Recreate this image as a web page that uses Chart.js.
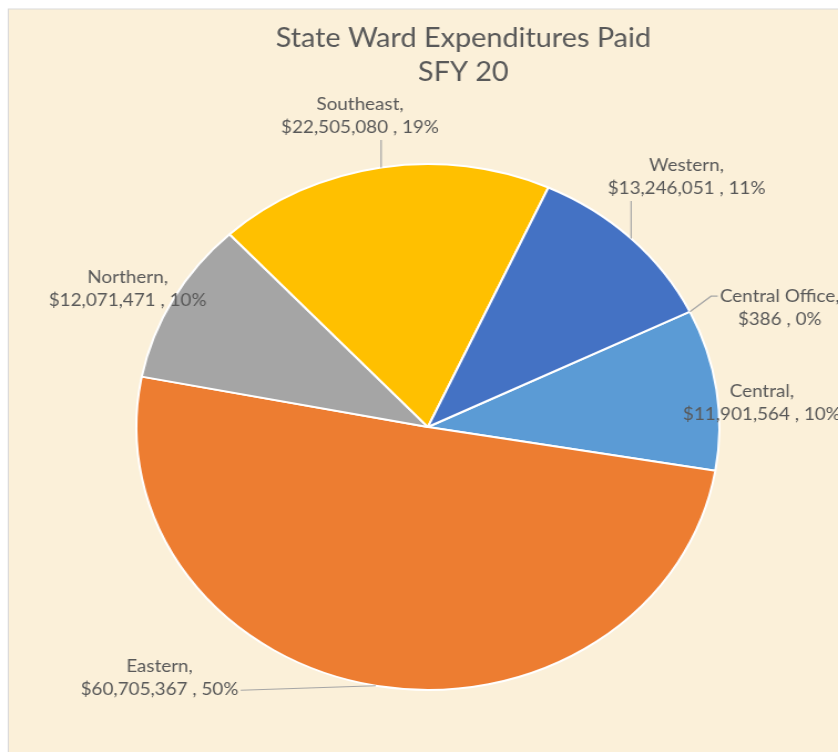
<!DOCTYPE html>
<html>
<head>
<meta charset="utf-8">
<script src="https://cdn.jsdelivr.net/npm/chart.js@4.4.1/dist/chart.umd.min.js"></script>
<style>
  html, body { margin: 0; padding: 0; background: #fff; overflow: hidden; width: 838px; height: 752px; }
  /* the reference is stretched horizontally, so the whole canvas is too */
  #wrap { position: absolute; left: 0; top: 0; width: 836px; height: 752px; transform: scaleX(1.1085); transform-origin: 0 0; }
</style>
</head>
<body>
<div id="wrap"><canvas id="pieChart" width="836" height="752" style="width:836px;height:752px"></canvas></div>
<script>
// --- Data ---
const regions = ["Central Office", "Central", "Eastern", "Northern", "Southeast", "Western"];
const amounts = [386, 11901564, 60705367, 12071471, 22505080, 13246051];
const sliceColors = ["#70AD47", "#5B9BD5", "#ED7D31", "#A5A5A5", "#FFC000", "#4472C4"];
const titleLines = ["State Ward Expenditures Paid", "SFY 20"];

// where each label sits, relative to its slice's outer edge at the mid angle
const labelPlacement = {
  "Central Office": { dx: 81, dy: -4, leader: "left" },
  "Central": { dx: 41, dy: 14, leader: null },
  "Eastern": { dx: -195, dy: -8, leader: "right" },
  "Northern": { dx: -41, dy: -10, leader: null },
  "Southeast": { dx: -19, dy: -51, leader: "up" },
  "Western": { dx: 50, dy: -61, leader: "up" },
};

const textColor = "#595959";
const fontFamily = "Lato, 'Open Sans', sans-serif";

// parchment panel behind the chart, plus the title centred on the whole panel
const backgroundPanel = {
  id: "backgroundPanel",
  beforeDraw(chart) {
    const ctx = chart.ctx;
    ctx.save();
    ctx.fillStyle = "#ffffff";
    ctx.fillRect(0, 0, chart.width, chart.height);
    ctx.fillStyle = "#FBF0D9";
    ctx.fillRect(7.5, 9, chart.width, chart.height);
    ctx.strokeStyle = "#D9D9D9";
    ctx.lineWidth = 1;
    ctx.strokeRect(7.5, 9, chart.width, chart.height);

    ctx.fillStyle = textColor;
    ctx.font = "26px " + fontFamily;
    ctx.textAlign = "center";
    ctx.textBaseline = "middle";
    titleLines.forEach((line, i) => {
      ctx.fillText(line, chart.width / 2, 39 + i * 34);
    });
    ctx.restore();
  },
};

// Excel-style data labels with leader lines
const sliceLabels = {
  id: "sliceLabels",
  afterDatasetsDraw(chart) {
    const ctx = chart.ctx;
    const meta = chart.getDatasetMeta(0);
    const total = amounts.reduce((a, b) => a + b, 0);
    const lh = 23;
    ctx.save();
    ctx.font = "17px " + fontFamily;
    ctx.textAlign = "center";
    ctx.textBaseline = "middle";
    meta.data.forEach((arc, i) => {
      const { x, y, startAngle, endAngle, outerRadius } = arc.getProps(
        ["x", "y", "startAngle", "endAngle", "outerRadius"], true);
      const mid = (startAngle + endAngle) / 2;
      const ex = x + Math.cos(mid) * outerRadius;
      const ey = y + Math.sin(mid) * outerRadius;
      const p = labelPlacement[regions[i]];
      const cx = ex + p.dx;
      const cy = ey + p.dy;
      const pct = Math.round((amounts[i] / total) * 100);
      const lines = [
        regions[i] + ",",
        "$" + amounts[i].toLocaleString("en-US") + " , " + pct + "%",
      ];
      const w = Math.max(...lines.map((l) => ctx.measureText(l).width));

      if (p.leader) {
        ctx.strokeStyle = "#A6A6A6";
        ctx.lineWidth = 1.2;
        ctx.beginPath();
        ctx.moveTo(ex, ey);
        if (p.leader === "up") {
          ctx.lineTo(ex, cy + lh / 2 + 12);
        } else if (p.leader === "left") {
          ctx.lineTo(cx - w / 2 - 8, cy - lh / 2);
          ctx.lineTo(cx - w / 2 - 2, cy - lh / 2);
        } else if (p.leader === "right") {
          ctx.lineTo(cx + w / 2 + 2, cy + lh / 2 + 1);
        }
        ctx.stroke();
      }

      ctx.fillStyle = textColor;
      ctx.fillText(lines[0], cx, cy - lh / 2);
      ctx.fillText(lines[1], cx, cy + lh / 2);
    });
    ctx.restore();
  },
};

const ctx = document.getElementById("pieChart").getContext("2d");
const pieChart = new Chart(ctx, {
  type: "pie",
  data: {
    labels: regions,
    datasets: [
      {
        data: amounts,
        backgroundColor: sliceColors,
        borderColor: "#ffffff",
        borderWidth: 2,
      },
    ],
  },
  options: {
    responsive: false,
    animation: false,
    events: [],
    rotation: 64,
    layout: { padding: { left: 122, right: 186, top: 163, bottom: 61 } },
    plugins: {
      legend: { display: false },
      tooltip: { enabled: false },
      title: { display: false },
    },
  },
  plugins: [backgroundPanel, sliceLabels],
});
</script>
</body>
</html>
